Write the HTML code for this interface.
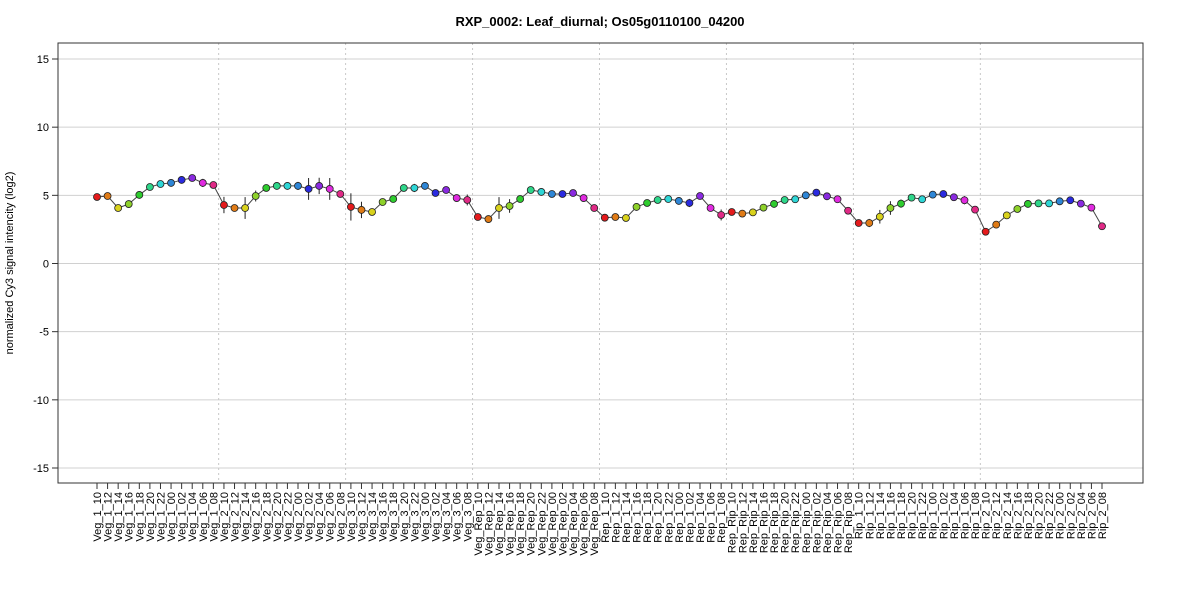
<!DOCTYPE html>
<html><head><meta charset="utf-8"><style>
body{margin:0;background:#fff;font-family:"Liberation Sans",Arial,sans-serif}
svg{display:block}
</style></head><body>
<svg id="chart" width="1200" height="600" xmlns="http://www.w3.org/2000/svg" font-family="Liberation Sans, Arial, sans-serif">
<text x="600" y="26" text-anchor="middle" font-size="13" font-weight="bold">RXP_0002: Leaf_diurnal; Os05g0110100_04200</text>
<text transform="translate(13,263) rotate(-90)" text-anchor="middle" font-size="11">normalized Cy3 signal intencity (log2)</text>
<g id="grid"></g><g id="marks"></g><g id="axes"></g>
<rect x="58" y="43" width="1085" height="440" fill="none" stroke="#333" stroke-width="1"/>
</svg>
<script>
const groups=["Veg_1","Veg_2","Veg_3","Veg_Rep","Rep_1","Rep_Rip","Rip_1","Rip_2"];
const hours=["10","12","14","16","18","20","22","00","02","04","06","08"];
const values=[
4.88,4.95,4.07,4.36,5.03,5.61,5.83,5.91,6.13,6.27,5.91,5.76,
4.29,4.07,4.07,4.95,5.54,5.69,5.69,5.69,5.47,5.69,5.47,5.10,
4.15,3.93,3.78,4.51,4.73,5.54,5.54,5.69,5.17,5.39,4.80,4.66,
3.41,3.26,4.07,4.22,4.73,5.39,5.25,5.10,5.10,5.17,4.80,4.07,
3.36,3.41,3.34,4.15,4.44,4.66,4.73,4.59,4.44,4.95,4.07,3.56,
3.78,3.66,3.75,4.10,4.37,4.66,4.71,5.00,5.20,4.93,4.71,3.87,
2.97,2.97,3.43,4.07,4.39,4.83,4.71,5.05,5.10,4.86,4.64,3.95,
2.33,2.85,3.53,4.00,4.37,4.41,4.41,4.56,4.64,4.39,4.10,2.73];
const errors=[
0.1,0.1,0.15,0.1,0.1,0.1,0.1,0.1,0.1,0.1,0.3,0.1,
0.6,0.2,0.8,0.4,0.1,0.15,0.1,0.3,0.8,0.6,0.8,0.2,
1.0,0.6,0.2,0.1,0.1,0.2,0.3,0.1,0.2,0.2,0.1,0.4,
0.1,0.1,0.8,0.5,0.1,0.1,0.1,0.1,0.1,0.1,0.1,0.1,
0.1,0.1,0.1,0.1,0.1,0.1,0.1,0.1,0.3,0.1,0.1,0.4,
0.1,0.1,0.2,0.1,0.1,0.1,0.1,0.1,0.15,0.1,0.2,0.1,
0.1,0.3,0.5,0.5,0.3,0.1,0.2,0.1,0.2,0.2,0.3,0.1,
0.1,0.1,0.1,0.1,0.1,0.1,0.1,0.1,0.1,0.1,0.1,0.2];
const yTicks=[-15,-10,-5,0,5,10,15];
const palette=["#e41a1c","#e07b16","#d9d21c","#8ed12a","#2ecc2e","#2ed68a","#2ed6d6","#2e86d6","#2a2ae0","#8a2ae0","#e02ae0","#e02a86"];
const NS="http://www.w3.org/2000/svg";
const labels=[];groups.forEach(g=>hours.forEach(h=>labels.push(g+"_"+h)));
const x=i=>97+i*(1102-97)/(labels.length-1);
const y=v=>263.5-v*(409/30);
function mk(tag,attrs,parent){const e=document.createElementNS(NS,tag);for(const k in attrs)e.setAttribute(k,attrs[k]);parent.appendChild(e);return e;}
const grid=document.getElementById('grid'),marks=document.getElementById('marks'),axes=document.getElementById('axes');
yTicks.forEach(t=>{
 const l=mk('line',{x1:58,x2:1143,y1:y(t),y2:y(t),stroke:'#d0d0d0','stroke-width':1},grid);
 
 
 const tk=mk('line',{x1:52,x2:58,y1:y(t),y2:y(t),stroke:'#333'},axes);
 
 
 const tx=mk('text',{x:49,y:y(t)+4,'text-anchor':'end','font-size':11},axes);
 
 
 tx.textContent=t;
});
for(let g=1;g<groups.length;g++){
 const xv=(x(g*12-1)+x(g*12))/2;
 const l=mk('line',{x1:xv,x2:xv,y1:43,y2:483,stroke:'#c8c8c8','stroke-dasharray':'2,3'},grid);
 
 
}
const pl=mk('polyline',{points:values.map((v,i)=>x(i)+','+y(v)).join(' '),fill:'none',stroke:'#444','stroke-width':1},marks);


values.forEach((v,i)=>{
 const e=mk('line',{x1:x(i),x2:x(i),y1:y(v+errors[i]),y2:y(v-errors[i]),stroke:'#222','stroke-width':1},marks);
 
 
});
values.forEach((v,i)=>{
 const c=mk('circle',{cx:x(i),cy:y(v),r:3.5,fill:palette[i%12],stroke:'#222','stroke-width':0.8},marks);
 
 
});
labels.forEach((s,i)=>{
 const tk=mk('line',{x1:x(i),x2:x(i),y1:483,y2:489,stroke:'#333'},axes);
 
 
 const t=mk('text',{transform:`translate(${x(i)+4},492) rotate(-90)`,'text-anchor':'end','font-size':11},axes);
 
 
 t.textContent=s;
});
</script>
</body></html>
